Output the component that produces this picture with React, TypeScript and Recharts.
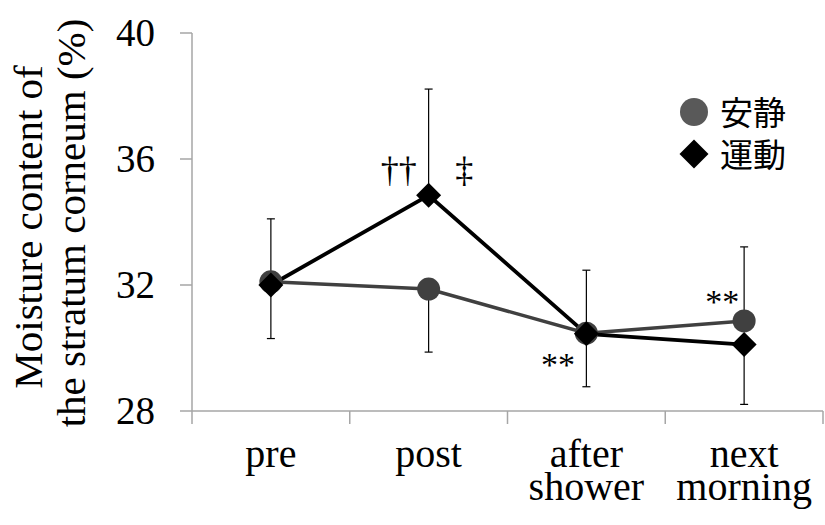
import React from 'react';
import { LineChart, Line, XAxis, YAxis, ErrorBar, ReferenceDot } from 'recharts';

// ---- data ----
const categories = ['pre', 'post', 'after\nshower', 'next\nmorning'];
const seriesNames = ['安静', '運動'];
const restValues = [32.1, 31.87, 30.47, 30.86];
const exerciseValues = [32.0, 34.85, 30.45, 30.11];
const restErrLow = [1.8, 2.0, 0, 0];
const restErrHigh = [0, 0, 2.0, 2.35];
const exErrLow = [0, 0, 1.68, 1.9];
const exErrHigh = [2.1, 3.37, 0, 0];
const yTicks = [28, 32, 36, 40];
const yDomain = [28, 40];
const annoTexts = ['††', '‡', '**', '**'];
const annoCats = [1, 1, 2, 3];
const annoValues = [35.28, 35.28, 29.1, 31.1];
const annoDx = [-30, 35.5, -28.5, -22];
const yLabelLines = ['Moisture content of', 'the stratum corneum (%)'];

const AXIS = '#a6a6a6';
const SERIF = '"Liberation Serif", "Times New Roman", serif';
const CJK = '"Noto Sans CJK JP", "Noto Sans CJK SC", sans-serif';
const REST_COLOR = '#404040';

const data = categories.map((c, i) => ({
  x: i + 0.5,
  name: c,
  rest: restValues[i],
  exercise: exerciseValues[i],
  restErr: [restErrLow[i], restErrHigh[i]],
  exErr: [exErrLow[i], exErrHigh[i]],
}));

const xTicks: number[] = [];
for (let i = 0; i <= categories.length; i++) {
  xTicks.push(i);
  if (i < categories.length) xTicks.push(i + 0.5);
}

const XTick = (props: any) => {
  const { x, y, payload } = props;
  const v = payload.value;
  if (Number.isInteger(v)) {
    return <line x1={x} x2={x} y1={y} y2={y + 13} stroke={AXIS} strokeWidth={1.5} />;
  }
  const lines = categories[Math.floor(v)].split('\n');
  return (
    <text x={x} y={y} textAnchor="middle" fontFamily={SERIF} fontSize={40} fill="#000">
      {lines.map((l, i) => (
        <tspan key={i} x={x} y={y + 55.5 + i * 33.5}>
          {l}
        </tspan>
      ))}
    </text>
  );
};

const YTick = (props: any) => {
  const { x, y, payload } = props;
  return (
    <text x={x} y={y} dy="0.34em" textAnchor="end" fontFamily={SERIF} fontSize={39} fill="#000">
      {payload.value}
    </text>
  );
};

const CircleDot = (props: any) => {
  const { cx, cy, index } = props;
  return <circle key={`c-${index}`} cx={cx} cy={cy} r={11.5} fill={REST_COLOR} />;
};

const DiamondDot = (props: any) => {
  const { cx, cy, index } = props;
  const h = 12.5;
  return (
    <polygon
      key={`d-${index}`}
      points={`${cx},${cy - h} ${cx + h},${cy} ${cx},${cy + h} ${cx - h},${cy}`}
      fill="#000"
    />
  );
};

const YLabel = () => (
  <g>
    <text
      x={42}
      y={227}
      transform="rotate(-90, 42, 227)"
      textAnchor="middle"
      fontFamily={SERIF}
      fontSize={41}
      fill="#000"
    >
      {yLabelLines[0]}
    </text>
    <text
      x={85}
      y={223}
      transform="rotate(-90, 85, 223)"
      textAnchor="middle"
      fontFamily={SERIF}
      fontSize={41}
      fill="#000"
    >
      {yLabelLines[1]}
    </text>
  </g>
);

export default function App() {
  return (
    <div style={{ position: 'absolute', left: 0, top: 0, width: 825, height: 525, background: '#fff' }}>
      <LineChart
        width={825}
        height={525}
        data={data}
        margin={{ top: 33, right: 2, bottom: 0, left: 0 }}
      >
        <XAxis
          type="number"
          dataKey="x"
          domain={[0, categories.length]}
          ticks={xTicks}
          interval={0}
          tickLine={false}
          tickSize={0}
          tickMargin={0}
          height={114}
          axisLine={{ stroke: AXIS, strokeWidth: 1.5 }}
          tick={<XTick />}
        />
        <YAxis
          type="number"
          domain={yDomain}
          ticks={yTicks}
          interval={0}
          width={192}
          tickSize={12}
          tickMargin={25}
          axisLine={{ stroke: AXIS, strokeWidth: 1.5 }}
          tickLine={{ stroke: AXIS, strokeWidth: 1.5 }}
          tick={<YTick />}
          label={{ content: () => <YLabel /> }}
        />
        <Line
          type="linear"
          dataKey="rest"
          name={seriesNames[0]}
          stroke={REST_COLOR}
          strokeWidth={3.5}
          dot={CircleDot}
          activeDot={false}
          isAnimationActive={false}
        >
          <ErrorBar dataKey="restErr" direction="y" width={4} stroke="#000" strokeWidth={1.2} isAnimationActive={false} />
        </Line>
        <Line
          type="linear"
          dataKey="exercise"
          name={seriesNames[1]}
          stroke="#000"
          strokeWidth={3.8}
          dot={DiamondDot}
          activeDot={false}
          isAnimationActive={false}
        >
          <ErrorBar dataKey="exErr" direction="y" width={4} stroke="#000" strokeWidth={1.2} isAnimationActive={false} />
        </Line>
        {annoTexts.map((t, i) => (
          <ReferenceDot
            key={`a-${i}`}
            x={annoCats[i] + 0.5}
            y={annoValues[i]}
            r={0}
            ifOverflow="visible"
            shape={(p: any) => (
              <text
                x={p.cx + annoDx[i]}
                y={p.cy}
                textAnchor="middle"
                fontFamily={SERIF}
                fontSize={t === '**' ? 34 : 36}
                fill="#000"
              >
                {t}
              </text>
            )}
          />
        ))}
      </LineChart>
      <svg
        width={825}
        height={525}
        style={{ position: 'absolute', left: 0, top: 0, pointerEvents: 'none' }}
      >
        <circle cx={694} cy={112} r={14} fill="#595959" />
        <text x={720} y={124.5} fontFamily={CJK} fontSize={33} fill="#000">
          {seriesNames[0]}
        </text>
        <polygon points="694,139.5 708.5,154 694,168.5 679.5,154" fill="#000" />
        <text x={720} y={166.5} fontFamily={CJK} fontSize={33} fill="#000">
          {seriesNames[1]}
        </text>
      </svg>
    </div>
  );
}
